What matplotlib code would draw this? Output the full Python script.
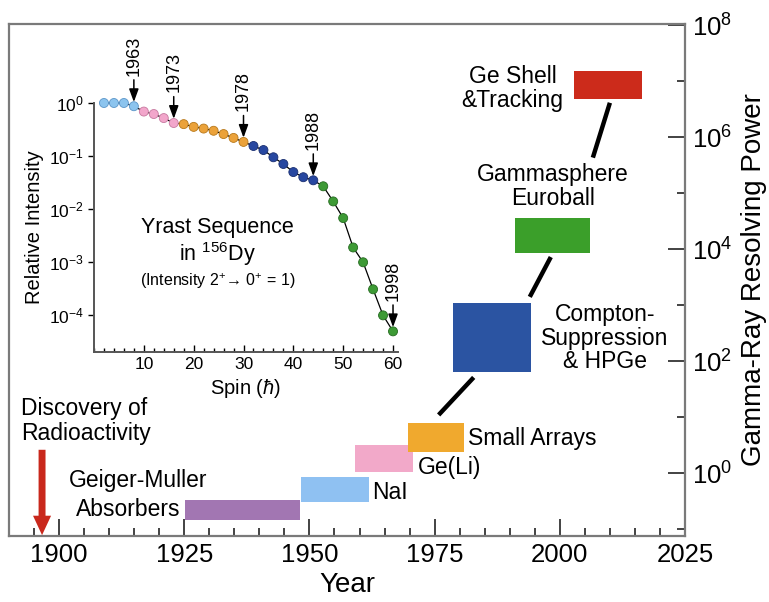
# gamma-ray detector history: resolving power versus year, with the 156Dy yrast inset
import matplotlib
matplotlib.use('Agg')
import matplotlib.pyplot as plt
from matplotlib.ticker import FixedLocator, MultipleLocator, NullFormatter, NullLocator

plt.rcParams['font.family'] = ['Liberation Sans', 'DejaVu Sans']
plt.rcParams['mathtext.fontset'] = 'custom'
plt.rcParams['mathtext.rm'] = 'Liberation Sans'
plt.rcParams['mathtext.it'] = 'Liberation Sans:italic'
plt.rcParams['mathtext.bf'] = 'Liberation Sans:bold'

# detector eras: start year, end year, low / high resolving power
det_names = ['Geiger-Muller', 'NaI', 'Ge(Li)', 'Small Arrays', 'Compton', 'Gammasphere', 'Ge Shell']
det_start = [1925.2, 1948.4, 1959.0, 1969.6, 1978.6, 1991.0, 2002.8]
det_end = [1948.2, 1961.8, 1970.6, 1980.8, 1994.2, 2006.0, 2016.4]
det_low = [0.145, 0.30, 1.04, 2.4, 63, 8.5e3, 4.8e6]
det_high = [0.33, 0.85, 3.2, 7.8, 1.1e3, 3.6e4, 1.5e7]
det_colors = ['#a276b2', '#8fc1f2', '#f2a9c9', '#f0a92e', '#2b54a2', '#3b9f2a', '#cc2b1b']

# black links between the later eras (year pairs, resolving power pairs)
link_x = [(1975.8, 1982.8), (1994.0, 1998.2), (2006.6, 2010.0)]
link_y = [(10.9, 51), (1.4e3, 7.2e3), (4.3e5, 4.1e6)]

# yrast sequence of 156Dy: spin and relative intensity
spins = [2, 4, 6, 8, 10, 12, 14, 16, 18, 20, 22, 24, 26, 28, 30,
         32, 34, 36, 38, 40, 42, 44, 46, 48, 50, 52, 54, 56, 58, 60]
intensity = [1.0, 1.0, 1.0, 0.87, 0.69, 0.62, 0.52, 0.42, 0.40, 0.355, 0.33, 0.30, 0.26, 0.22, 0.185,
             0.155, 0.13, 0.095, 0.071, 0.05, 0.04, 0.035, 0.027, 0.014, 0.0068, 0.0019, 0.001, 0.00031, 0.0001, 0.00005]
# which era each point was first seen in (index into era colours)
pt_era = [0] * 4 + [1] * 4 + [2] * 7 + [3] * 7 + [4] * 8
era_fill = ['#8cc4ee', '#f2a6cb', '#eba23a', '#2747a0', '#3d9a35']
era_edge = ['#5b95c8', '#c77aa0', '#b8791c', '#1a2f70', '#256a20']
arrow_years = ['1963', '1973', '1978', '1988', '1998']
arrow_spins = [8, 16, 30, 44, 60]

fig = plt.figure(figsize=(7.69, 6.02), dpi=100)

# main axes
ax = fig.add_axes([9 / 769, 66 / 602, 676 / 769, 512 / 602])
ax.set_yscale('log')
ax.set_xlim(1890, 2025)
ax.set_ylim(10 ** -1.125, 10 ** 8.02)

widths = [e - s for s, e in zip(det_start, det_end)]
heights = [h - l for l, h in zip(det_low, det_high)]
ax.bar(det_start, heights, width=widths, bottom=det_low, align='edge', color=det_colors, linewidth=0, zorder=2)

for xs, ys in zip(link_x, link_y):
    ax.plot(xs, ys, color='black', lw=3.2, solid_capstyle='butt', zorder=2)

# discovery of radioactivity arrow
ax.annotate('', xy=(1896.6, 10 ** -1.11), xytext=(1896.6, 2.6),
            arrowprops=dict(width=5, headwidth=13, headlength=14, shrink=0, color='#c9281c', lw=0))

fs = 16.5
ax.text(1892.4, 10 ** 0.93, 'Discovery of\nRadioactivity', fontsize=fs, ha='left', va='center', linespacing=1.1)
ax.text(1902.0, 10 ** -0.14, 'Geiger-Muller', fontsize=fs, ha='left', va='center')
ax.text(1903.4, 10 ** -0.66, 'Absorbers', fontsize=fs, ha='left', va='center')
ax.text(1962.6, 10 ** -0.34, 'NaI', fontsize=fs, ha='left', va='center')
ax.text(1971.6, 10 ** 0.09, 'Ge(Li)', fontsize=fs, ha='left', va='center')
ax.text(1981.6, 10 ** 0.625, 'Small Arrays', fontsize=fs, ha='left', va='center')
ax.text(2009.0, 10 ** 2.41, 'Compton-\nSuppression\n& HPGe', fontsize=fs, ha='center', va='center', linespacing=1.05)
ax.text(1998.6, 10 ** 5.11, 'Gammasphere\nEuroball', fontsize=fs, ha='center', va='center', linespacing=1.05)
ax.text(1990.6, 10 ** 6.875, 'Ge Shell\n&Tracking', fontsize=fs, ha='center', va='center', linespacing=1.05)

ax.xaxis.set_major_locator(FixedLocator([1900, 1925, 1950, 1975, 2000, 2025]))
ax.xaxis.set_minor_locator(MultipleLocator(5))
ax.yaxis.tick_right()
ax.yaxis.set_label_position('right')
ax.yaxis.set_major_locator(FixedLocator([1e0, 1e2, 1e4, 1e6, 1e8]))
ax.yaxis.set_minor_locator(FixedLocator([1e-1, 1e1, 1e3, 1e5, 1e7]))
ax.yaxis.set_minor_formatter(NullFormatter())
ax.tick_params(which='major', direction='in', length=12, width=1.2, labelsize=18.5, color='#222222', pad=5)
ax.tick_params(which='minor', direction='in', length=6, width=1.2, color='#222222')
ax.tick_params(axis='y', which='both', left=False, right=True)
ax.tick_params(axis='x', which='both', top=False)
for sp in ax.spines.values():
    sp.set_color('#7a7a7a')
    sp.set_linewidth(1.6)
ax.set_xlabel('Year', fontsize=20, labelpad=4)
ax.set_ylabel('Gamma-Ray Resolving Power', fontsize=20, labelpad=6)

# inset: yrast sequence
ins = fig.add_axes([94 / 769, 1 - 352 / 602, 304 / 769, 249 / 602])
ins.set_yscale('log')
ins.set_xlim(0, 61)
ins.set_ylim(10 ** -4.69, 1)
ins.patch.set_alpha(0)
ins.spines['top'].set_visible(False)
ins.spines['right'].set_visible(False)
for side in ['left', 'bottom']:
    ins.spines[side].set_color('#555555')
    ins.spines[side].set_linewidth(1.4)

ins.plot(spins, intensity, color='black', lw=0.9, zorder=2, clip_on=False)
ins.scatter(spins, intensity, c=[era_fill[i] for i in pt_era], edgecolors=[era_edge[i] for i in pt_era],
            s=42, linewidths=0.6, zorder=3, clip_on=False)

for yr, s in zip(arrow_years, arrow_spins):
    val = intensity[spins.index(s)]
    ins.annotate(yr, xy=(s, val), xytext=(0, 22), textcoords='offset points', rotation=90,
                 ha='center', va='bottom', fontsize=13, annotation_clip=False,
                 arrowprops=dict(arrowstyle='-|>,head_width=0.22,head_length=0.6', color='black',
                                 lw=1.1, shrinkA=1, shrinkB=3))

ins.text(24.8, 10 ** -2.34, 'Yrast Sequence', fontsize=15.5, ha='center', va='center')
ins.text(24.8, 10 ** -2.84, 'in $^{156}$Dy', fontsize=15.5, ha='center', va='center')
ins.text(24.8, 10 ** -3.36, '(Intensity 2$^{+}$\u2192 0$^{+}$ = 1)', fontsize=11.5, ha='center', va='center')

ins.xaxis.set_major_locator(FixedLocator([10, 20, 30, 40, 50, 60]))
ins.xaxis.set_minor_locator(MultipleLocator(2))
ins.yaxis.set_major_locator(FixedLocator([1e-4, 1e-3, 1e-2, 1e-1, 1e0]))
ins.yaxis.set_minor_locator(NullLocator())
ins.tick_params(axis='x', which='major', direction='in', length=5, width=1.0, labelsize=12.5)
ins.tick_params(axis='x', which='minor', direction='in', length=3, width=1.0)
ins.tick_params(axis='y', which='major', direction='out', length=4, width=1.0, labelsize=12.5)
ins.set_xlabel('Spin ($\\hbar$)', fontsize=14.5, labelpad=4)
ins.set_ylabel('Relative Intensity', fontsize=14.5, labelpad=3)

fig.savefig('out.png', dpi=100)
